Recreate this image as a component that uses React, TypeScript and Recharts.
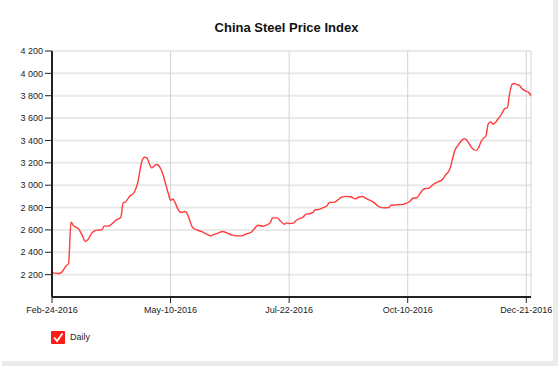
import React from 'react';
import {
  LineChart,
  Line,
  XAxis,
  YAxis,
  CartesianGrid,
  Legend,
} from 'recharts';

// trading-day index (0 = Feb-24-2016) and the daily index value
const tradingDay = [
  0, 3, 4, 6, 7, 8, 9, 10, 11, 13, 14, 15, 17, 19, 21, 22, 24, 25, 27, 29,
  30, 31, 33, 34, 35, 36, 38, 39, 40, 41, 42, 44, 46, 47, 48, 49, 50, 51, 52, 53,
  54, 55, 56, 57, 58, 59, 60, 61, 63, 65, 67, 68, 70, 72, 74, 76, 78, 80, 82, 84,
  86, 87, 89, 90, 92, 93, 95, 96, 98, 99, 100, 102, 103, 105, 106, 107, 109, 110, 111, 113,
  115, 116, 117, 119, 120, 122, 124, 126, 128, 129, 131, 132, 134, 136, 138, 140, 142, 143, 145, 148,
  149, 151, 152, 154, 155, 157, 159, 160, 162, 163, 165, 166, 167, 168, 169, 170, 171, 173, 174, 175,
  177, 178, 179, 180, 181, 182, 183, 184, 185, 186, 187, 188, 189, 190, 191, 192, 193, 194, 195, 196,
  197, 198, 199, 200, 201, 202,
];

const price = [
  2218, 2210, 2220, 2280, 2300, 2670, 2640, 2625, 2613, 2540, 2496, 2510, 2577, 2598, 2600, 2634, 2634, 2650, 2688, 2710,
  2840, 2850, 2907, 2918, 2950, 3010, 3220, 3250, 3245, 3194, 3155, 3185, 3140, 3080, 3005, 2930, 2865, 2877, 2840, 2790,
  2760, 2757, 2764, 2745, 2691, 2631, 2610, 2600, 2586, 2565, 2547, 2556, 2571, 2586, 2571, 2553, 2547, 2547, 2565, 2579,
  2627, 2642, 2633, 2640, 2663, 2708, 2708, 2687, 2651, 2663, 2657, 2663, 2687, 2705, 2717, 2738, 2747, 2756, 2780, 2786,
  2805, 2816, 2846, 2846, 2860, 2890, 2900, 2896, 2878, 2890, 2899, 2887, 2866, 2842, 2806, 2797, 2800, 2821, 2824, 2828,
  2836, 2857, 2881, 2890, 2920, 2968, 2974, 2992, 3022, 3031, 3060, 3095, 3114, 3159, 3243, 3317, 3350, 3405, 3416, 3400,
  3335, 3317, 3311, 3341, 3392, 3420, 3440, 3550, 3565, 3545, 3560, 3590, 3615, 3653, 3686, 3692, 3820, 3900, 3910, 3900,
  3895, 3870, 3850, 3840, 3830, 3800,
];

const dateTicks = [0, 50, 100, 150, 200];
const dateLabels = ['Feb-24-2016', 'May-10-2016', 'Jul-22-2016', 'Oct-10-2016', 'Dec-21-2016'];
const priceTicks = [2200, 2400, 2600, 2800, 3000, 3200, 3400, 3600, 3800, 4000, 4200];

const rows = tradingDay.map((day, i) => ({ day, daily: price[i] }));

const font = '"Liberation Sans", Arial, sans-serif';

const formatPrice = (v: number) =>
  `${Math.floor(v / 1000)} ${String(v % 1000).padStart(3, '0')}`;

function DailyLegend() {
  return (
    <div
      style={{
        height: 20,
        display: 'flex',
        alignItems: 'center',
        paddingLeft: 51,
        fontFamily: font,
        fontSize: 9,
        color: '#222',
      }}
    >
      <svg width={14} height={13} style={{ marginRight: 5 }}>
        <rect x={0} y={0} width={14} height={13} rx={1} fill="#ff1a1a" />
        <path d="M3 6.5 L6 10 L11.5 2.5" stroke="#fff" strokeWidth={1.8} fill="none" />
      </svg>
      <span>Daily</span>
    </div>
  );
}

export default function App() {
  return (
    <div
      style={{
        position: 'absolute',
        top: 0,
        left: 0,
        width: 558,
        height: 368,
        background: '#fff',
        fontFamily: font,
      }}
    >
      <div style={{ position: 'absolute', left: 553, top: 0, width: 5, height: 366, background: '#ebebeb' }} />
      <div style={{ position: 'absolute', left: 2, top: 361, width: 556, height: 5, background: '#ebebeb' }} />
      <div
        style={{
          position: 'absolute',
          left: 0,
          top: 20,
          width: 573,
          textAlign: 'center',
          fontSize: 13,
          fontWeight: 'bold',
          color: '#111',
        }}
      >
        China Steel Price Index
      </div>
      <div style={{ position: 'absolute', left: 0, top: 0 }}>
        <LineChart
          width={553}
          height={362}
          data={rows}
          margin={{ top: 51, right: 22, bottom: 15, left: 0 }}
        >
          <CartesianGrid vertical={false} stroke="#e9e9e9" strokeWidth={2} />
          <CartesianGrid horizontal={false} stroke="#d4d4d4" strokeWidth={1} />
          <XAxis
            dataKey="day"
            type="number"
            domain={[0, 202]}
            ticks={dateTicks}
            interval={0}
            tickFormatter={(v: number) => dateLabels[dateTicks.indexOf(v)] ?? ''}
            height={30}
            tickSize={6}
            tickMargin={4}
            axisLine={{ stroke: '#222', strokeWidth: 2 }}
            tickLine={{ stroke: '#222' }}
            tick={{ fontSize: 9, fill: '#222', fontFamily: font }}
          />
          <YAxis
            type="number"
            domain={[2000, 4200]}
            ticks={priceTicks}
            interval={0}
            tickFormatter={formatPrice}
            width={52}
            tickSize={7}
            tickMargin={2}
            axisLine={{ stroke: '#222', strokeWidth: 2 }}
            tickLine={{ stroke: '#222' }}
            tick={{ fontSize: 9, fill: '#222', fontFamily: font }}
          />
          <Legend verticalAlign="bottom" align="left" content={() => <DailyLegend />} />
          <Line
            type="monotone"
            dataKey="daily"
            name="Daily"
            stroke="#ff3b3b"
            strokeWidth={1.4}
            dot={false}
            activeDot={false}
            isAnimationActive={false}
          />
        </LineChart>
      </div>
    </div>
  );
}
